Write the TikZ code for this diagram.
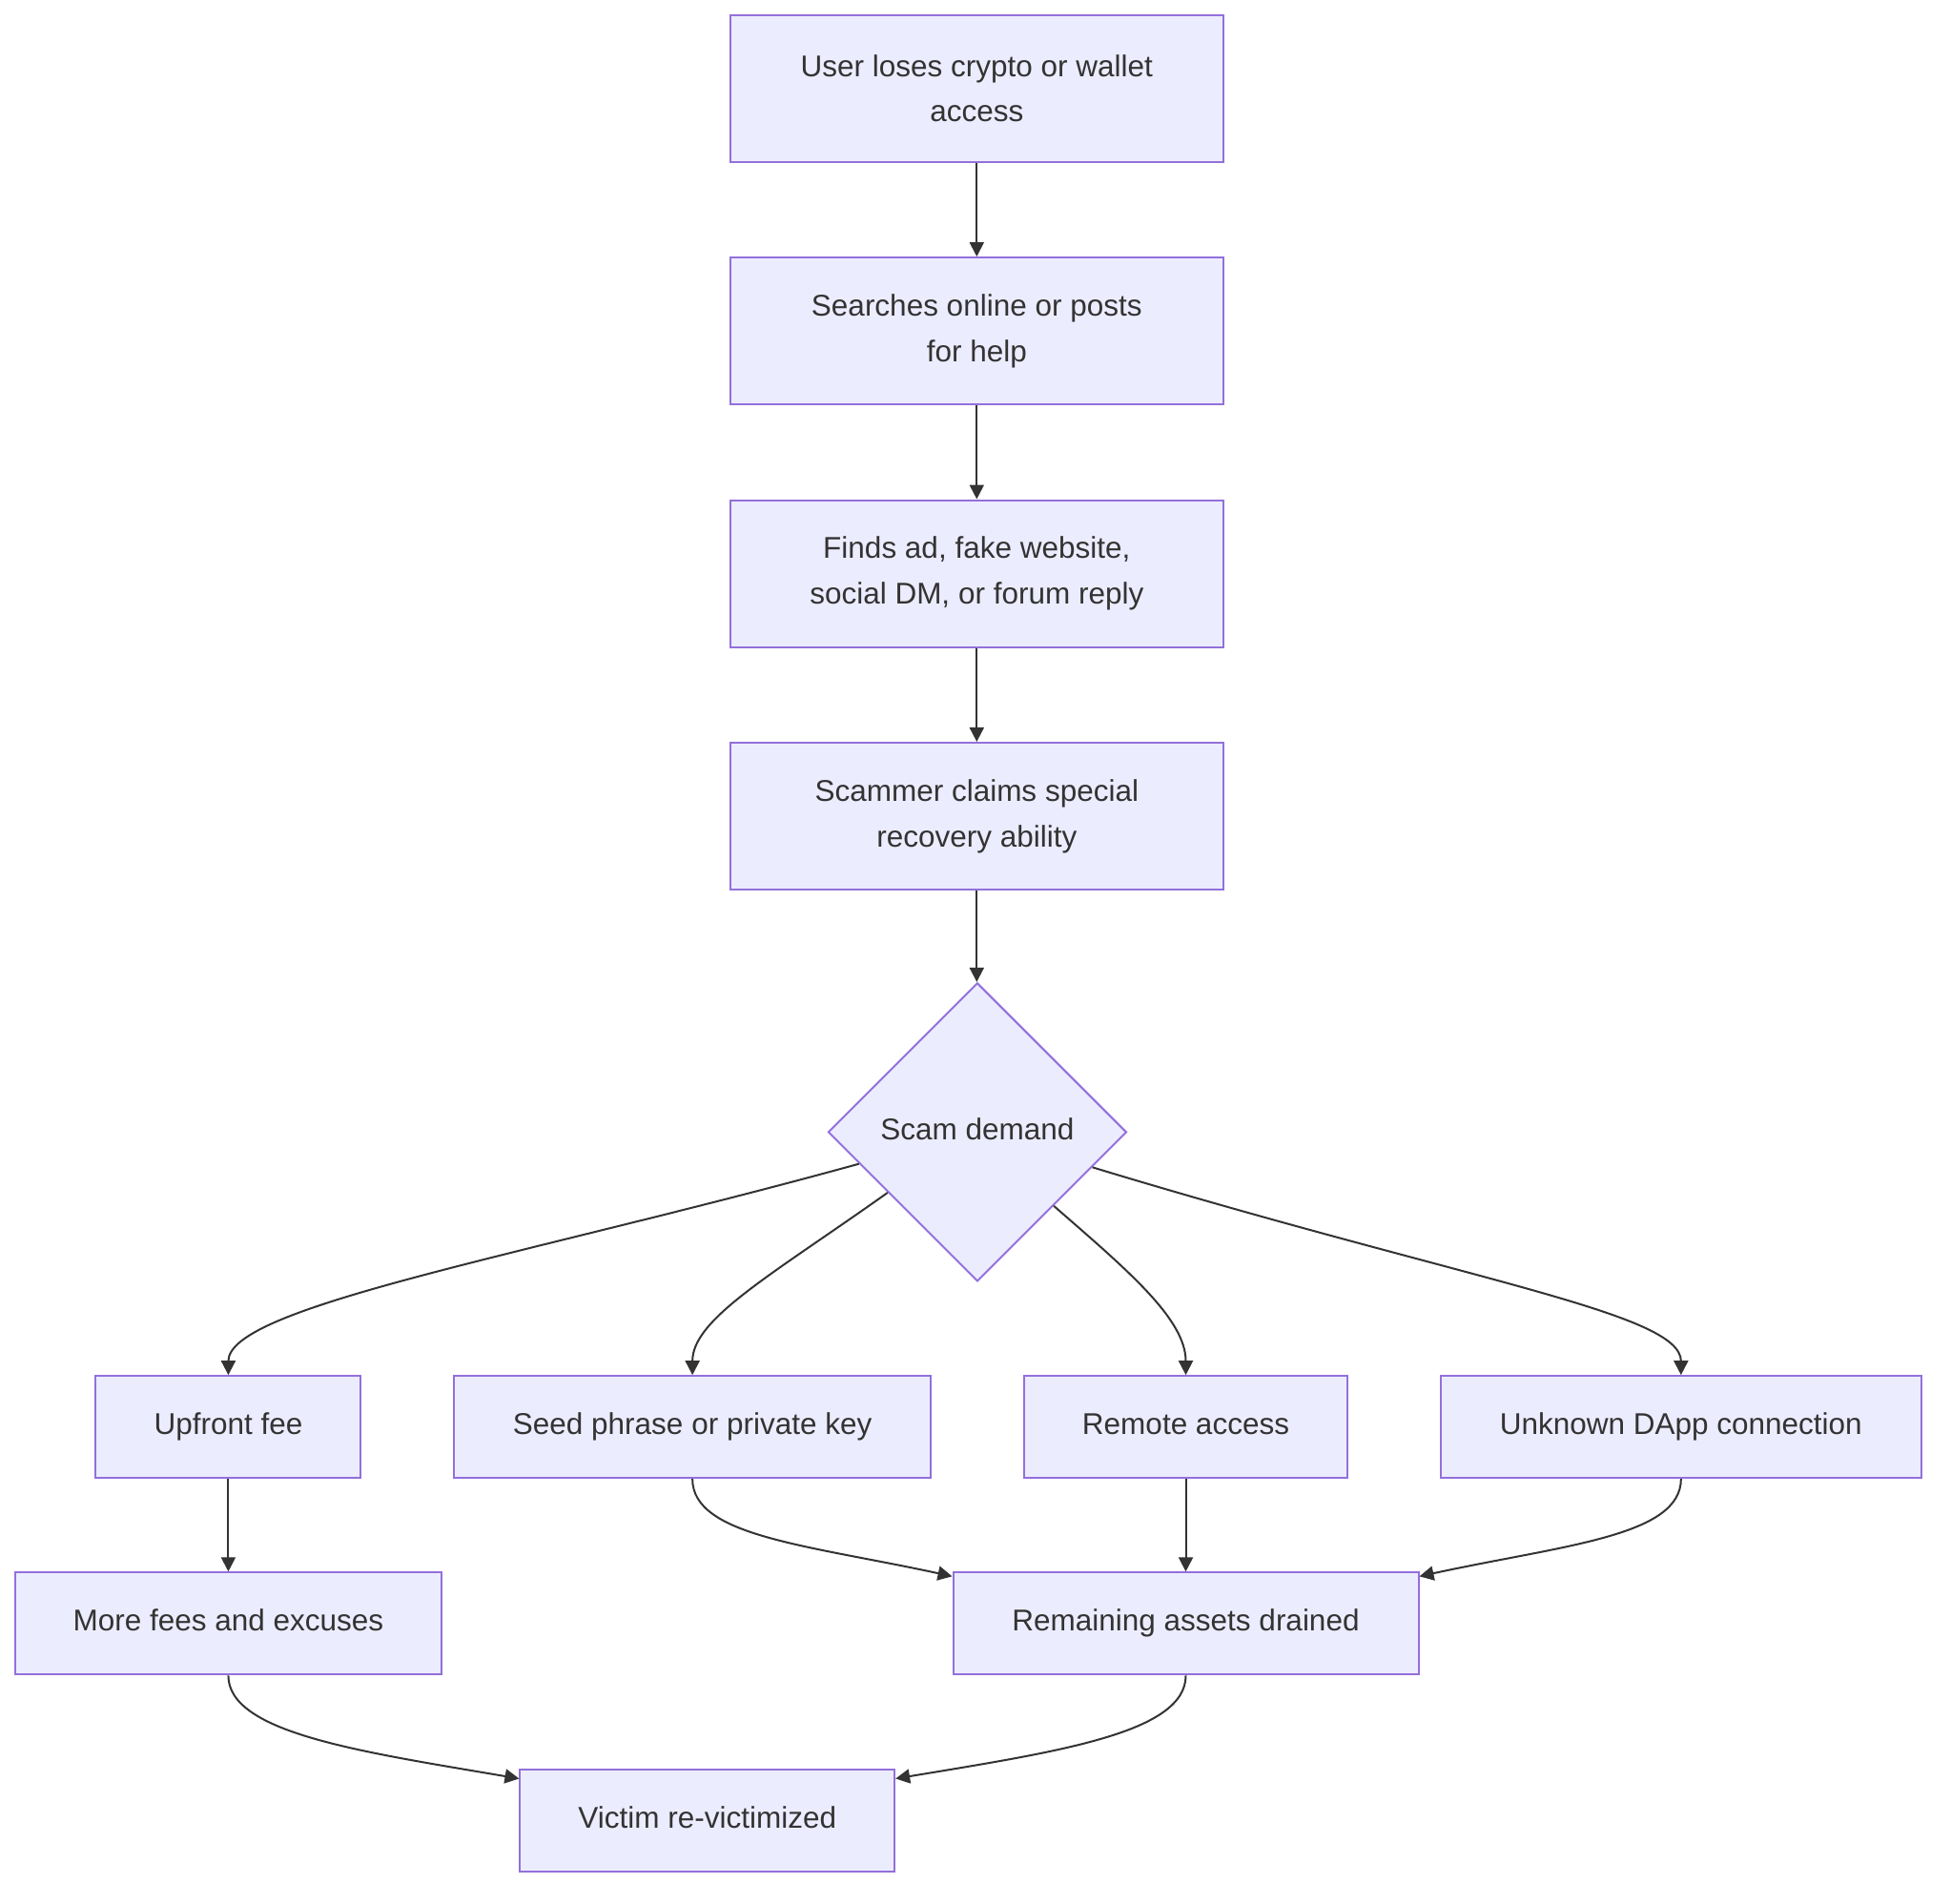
\documentclass[tikz,border=0pt]{standalone}
\usepackage{fontspec}
\setmainfont{Liberation Sans}
\usetikzlibrary{shapes.geometric,arrows.meta}
\definecolor{boxfill}{HTML}{ECECFF}
\definecolor{boxline}{HTML}{9370DB}
\definecolor{txt}{HTML}{333333}
\begin{document}
\begin{tikzpicture}[x=1.30485pt,y=-1.30485pt,
  box/.style={draw=boxline, fill=boxfill, line width=2pt, text=txt,
    font=\fontsize{31.5}{47.8}\selectfont, align=center, inner sep=0pt},
  tall/.style={box, minimum width=516.7pt, minimum height=154pt},
  short/.style={box, minimum height=107pt, text height=23pt, text depth=7pt},
  decide/.style={box, diamond, shape aspect=1, minimum width=313pt, minimum height=313pt, text height=23pt, text depth=7pt},
  conn/.style={draw=txt, line width=2pt, -{Triangle[length=15pt,width=15pt]}}]
\useasboundingbox (0,0) rectangle (1568,1529.7);

\node[tall] (n1) at (785,71) {User loses crypto or wallet\\access};
\node[tall] (n2) at (785,266) {Searches online or posts\\for help};
\node[tall] (n3) at (785,461) {Finds ad, fake website,\\social DM, or forum reply};
\node[tall] (n4) at (785,656) {Scammer claims special\\recovery ability};
\node[decide] (d) at (785.5,910) {Scam demand};

\node[short, minimum width=277.9pt] (fee) at (183.5,1147) {Upfront fee};
\node[short, minimum width=499.7pt] (seed) at (556.5,1147) {Seed phrase or private key};
\node[short, minimum width=339.2pt] (remote) at (953,1147) {Remote access};
\node[short, minimum width=503.7pt] (dapp) at (1351,1147) {Unknown DApp connection};
\node[short, minimum width=447.5pt] (more) at (183.5,1305) {More fees and excuses};
\node[short, minimum width=488pt] (rem) at (953,1305) {Remaining assets drained};
\node[short, minimum width=392.7pt] (vic) at (568.5,1463) {Victim re-victimized};

\draw[conn] (n1) -- (n2);
\draw[conn] (n2) -- (n3);
\draw[conn] (n3) -- (n4);
\draw[conn] (n4.south) -- (n4.south |- d.north);

\draw[conn] (d.195) .. controls (420,1010) and (183.5,1050) .. (fee.north);
\draw[conn] (d.214.8) .. controls (620,1025) and (556.5,1060) .. (seed.north);
\draw[conn] (d.316.4) .. controls (905,1020) and (953,1060) .. (remote.north);
\draw[conn] (d.343.6) .. controls (1180,1030) and (1351,1055) .. (dapp.north);

\draw[conn] (fee) -- (more);
\draw[conn] (remote) -- (rem);
\draw[conn] (seed.south) .. controls (556.5,1235) and (650,1242) .. ([yshift=-5pt]rem.north west);
\draw[conn] (dapp.south) .. controls (1351,1235) and (1256,1242) .. ([yshift=-5pt]rem.north east);
\draw[conn] (more.south) .. controls (183.5,1393) and (290,1408) .. ([yshift=-11pt]vic.north west);
\draw[conn] (rem.south) .. controls (953,1393) and (850,1408) .. ([yshift=-11pt]vic.north east);
\end{tikzpicture}
\end{document}
